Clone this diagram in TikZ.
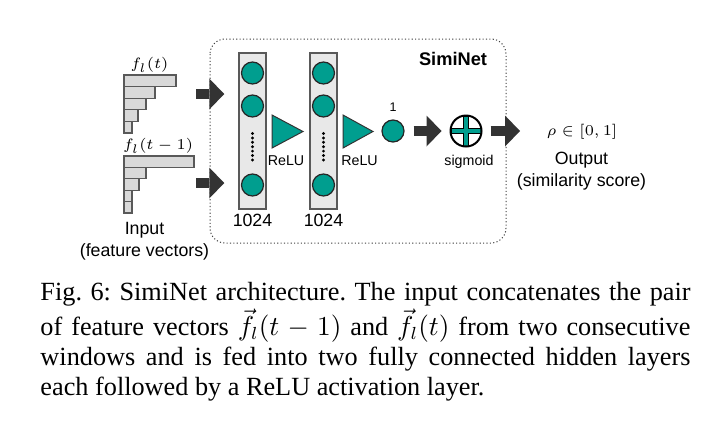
\documentclass[tikz,border=0pt]{standalone}
\usepackage{fontspec}
\setmainfont{Liberation Serif}
\newfontfamily\arial{Liberation Sans}
\usetikzlibrary{arrows.meta,positioning}
\definecolor{simiteal}{HTML}{009E8F}
\definecolor{arrowgray}{HTML}{333333}
\definecolor{layergray}{HTML}{E8E8E8}
\definecolor{bargray}{HTML}{D9D9D9}
\begin{document}
\begin{tikzpicture}[x=0.4pt, y=-0.4pt,
    neuron/.style={circle, draw=black!85, line width=0.5pt, fill=simiteal, minimum size=8.8pt, inner sep=0},
    layer/.style={draw=black!65, line width=0.6pt, fill=layergray, minimum width=10.8pt, minimum height=62.4pt, inner sep=0},
    bar/.style={draw=black!65, line width=0.5pt, fill=bargray},
    relu/.style={draw=black!80, line width=0.4pt, fill=simiteal},
    bigarrow/.style={draw=arrowgray, line width=4pt, -{Triangle[width=12.4pt,length=6pt,line width=0pt]}},
    lbl/.style={font=\arial\fontsize{7.1}{8.8}\selectfont, inner sep=0, align=center},
    small/.style={font=\arial\fontsize{5.7}{6.8}\selectfont, inner sep=0},
    mathlbl/.style={font=\fontsize{6}{7}\selectfont, inner sep=0}
]
\useasboundingbox (0,0) rectangle (712,421);

% SimiNet box
\draw[black!75, line width=0.4pt, dash pattern=on 0.45pt off 0.9pt, rounded corners=6pt] (210,39) rectangle (506,243);
\node[font=\arial\bfseries\fontsize{7.3}{8.8}\selectfont, inner sep=0] (siminet) at (453,59) {SimiNet};

% input feature vectors
\foreach \r [count=\i from 0] in {176,155,146,138,132}
    \draw[bar] (124,{75+11.6*\i}) rectangle (\r,{86.6+11.6*\i});
\foreach \r [count=\i from 0] in {194,146,139,132,132}
    \draw[bar] (124,{156+11.4*\i}) rectangle (\r,{167.4+11.4*\i});
\node[mathlbl] (ft)  at (149.5,65) {$f_l(t)$};
\node[mathlbl] (ft1) at (158,146)  {$f_l(t-1)$};
\node[lbl] (input) at (144.5,241) {Input\\(feature vectors)};

% hidden layers
\node[layer] (col1) at (252.5,131) {};
\node[layer] (col2) at (323.5,131) {};
\foreach \c/\x in {1/252.5, 2/323.5} {
    \node[neuron] (n\c1) at (\x,73)  {};
    \node[neuron] (n\c2) at (\x,106) {};
    \node[neuron] (n\c3) at (\x,185) {};
    \foreach \k in {0,...,6}
        \fill (\x,{133.5+4.4*\k}) circle (1.6);
    \node[lbl] (size\c) at (\x,220) {1024};
}

% ReLU
\draw[relu] (272,115) -- (303,131.5) -- (272,148) -- cycle;
\node[small] (relu1) at (286,161) {ReLU};
\draw[relu] (343,115) -- (373,131.5) -- (343,148) -- cycle;
\node[small] (relu2) at (359.5,161) {ReLU};

% output neuron and sigmoid
\node[neuron] (out) at (393,131) {};
\node[font=\arial\fontsize{5}{6}\selectfont, inner sep=0] (one) at (393,107) {1};
\node[circle, fill=white, minimum size=12.4pt, inner sep=0] (sig) at (466,131) {};
\draw[line width=2.6pt] (sig.north) -- (sig.south) (sig.west) -- (sig.east);
\draw[draw=simiteal, line width=1.5pt] ([yshift=-0.6pt]sig.north) -- ([yshift=0.6pt]sig.south) ([xshift=0.6pt]sig.west) -- ([xshift=-0.6pt]sig.east);
\draw[line width=0.8pt] (sig.center) circle (15.5);
\node[small] (sigmoid) at (469,162) {sigmoid};

% block arrows
\coordinate (in1) at (196,94);
\coordinate (in2) at (196,183);
\coordinate (res) at (520,131);
\draw[bigarrow, shorten >=5.6pt] (in1) -- (in1 -| col1.west);
\draw[bigarrow, shorten >=5.6pt] (in2) -- (in2 -| col1.west);
\draw[bigarrow, shorten <=3.6pt, shorten >=3.4pt] (out) -- (sig);
\draw[bigarrow, shorten <=3.4pt] (sig) -- (res);

% output
\node[mathlbl] (rho) at (582,132) {$\rho\in[0,1]$};
\node[lbl] (output) at (581.5,171) {Output\\(similarity score)};

% caption
\node[anchor=north west, text width=260pt, align=justify, inner sep=0, font=\fontsize{10.5}{12}\selectfont\frenchspacing] (caption) at (40,282)
    {Fig.~6: SimiNet architecture. The input concatenates the pair\linebreak of feature vectors $\vec{f_l}(t-1)$ and $\vec{f_l}(t)$ from two consecutive\linebreak windows and is fed into two fully connected hidden layers\linebreak each followed by a ReLU activation layer.};
\end{tikzpicture}
\end{document}
